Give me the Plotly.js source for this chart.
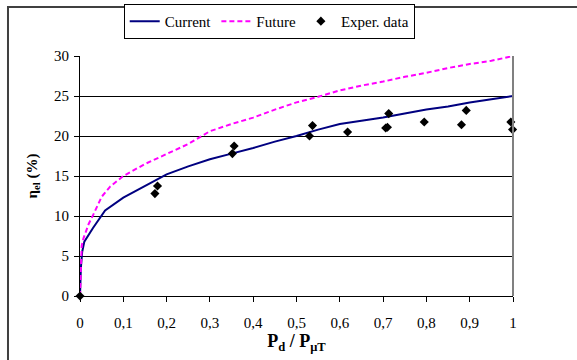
<!DOCTYPE html>
<html>
<head>
<meta charset="utf-8">
<script src="https://cdn.plot.ly/plotly-3.0.1.min.js"></script>
<style>html,body{margin:0;padding:0;background:#fff;}#chart{width:577px;height:360px;}</style>
</head>
<body>
<div id="chart"></div>
<script>
// Current design curve
const currentX = [0, 0.002, 0.005, 0.01, 0.03, 0.058, 0.1, 0.15, 0.2, 0.25, 0.3, 0.35, 0.4, 0.45, 0.5, 0.55, 0.6, 0.65, 0.7, 0.75, 0.8, 0.85, 0.9, 0.95, 1.0];
const currentY = [0, 3.5, 5.5, 6.8, 8.5, 10.7, 12.3, 13.8, 15.2, 16.2, 17.1, 17.8, 18.5, 19.3, 20.0, 20.8, 21.5, 21.9, 22.3, 22.8, 23.3, 23.7, 24.2, 24.6, 25.0];
// Future design curve
const futureX = [0, 0.002, 0.004, 0.008, 0.02, 0.031, 0.05, 0.07, 0.1, 0.15, 0.2, 0.25, 0.3, 0.35, 0.4, 0.45, 0.5, 0.55, 0.6, 0.65, 0.7, 0.75, 0.8, 0.85, 0.9, 0.95, 1.0];
const futureY = [0, 4.0, 6.3, 7.2, 9.0, 10.2, 12.4, 13.7, 15.0, 16.5, 17.7, 19.0, 20.6, 21.5, 22.3, 23.3, 24.2, 24.9, 25.7, 26.3, 26.8, 27.4, 27.9, 28.5, 29.0, 29.4, 30.0];
// Experimental data
const expX = [0, 0.173, 0.179, 0.352, 0.356, 0.530, 0.537, 0.618, 0.706, 0.710, 0.713, 0.795, 0.881, 0.892, 0.995, 0.999];
const expY = [0, 12.8, 13.75, 17.8, 18.75, 20.0, 21.3, 20.5, 21.0, 21.1, 22.8, 21.75, 21.4, 23.2, 21.75, 20.8];

const serif = "'Liberation Serif', 'Times New Roman', serif";

const traces = [
  {x: currentX, y: currentY, name: 'Current', mode: 'lines', type: 'scatter',
   line: {color: '#000080', width: 2}},
  {x: futureX, y: futureY, name: 'Future', mode: 'lines', type: 'scatter',
   line: {color: '#FF00FF', width: 2, dash: '5px,3px'}},
  {x: expX, y: expY, name: 'Exper. data', mode: 'markers', type: 'scatter',
   marker: {symbol: 'diamond', color: '#000000', size: 7}, cliponaxis: false}
];

const layout = {
  width: 577, height: 360,
  margin: {l: 80, r: 64, t: 56, b: 64, autoexpand: false},
  paper_bgcolor: '#ffffff', plot_bgcolor: '#ffffff',
  separators: ', ',
  font: {family: serif, size: 15, color: '#000'},
  showlegend: true,
  legend: {orientation: 'h', x: 0.437, y: 1.217, xanchor: 'center', yanchor: 'top',
           bgcolor: '#ffffff', bordercolor: '#000000', borderwidth: 1, itemwidth: 30,
           font: {family: serif, size: 15, color: '#000'}, tracegroupgap: 0},
  xaxis: {range: [0, 1], dtick: 0.1, tick0: 0, showgrid: false, zeroline: false,
          showline: true, linecolor: '#000', linewidth: 1, ticks: 'outside', ticklen: 5,
          tickcolor: '#000', tickfont: {family: serif, size: 15}, fixedrange: true,
          ticklabelstandoff: 8, automargin: false,
          title: {text: '<b>P<sub>d</sub> / P<sub>μT</sub></b>', font: {family: serif, size: 18}, standoff: 2}},
  yaxis: {range: [0, 30], dtick: 5, tick0: 0, showgrid: true, gridcolor: '#000', gridwidth: 1,
          zeroline: false, showline: true, linecolor: '#000', linewidth: 1, ticks: 'outside',
          ticklen: 5, tickcolor: '#000', tickfont: {family: serif, size: 15}, fixedrange: true,
          ticklabelstandoff: 2, automargin: false,
          title: {text: '<b>η<sub>el</sub> (%)</b>', font: {family: serif, size: 15}, standoff: 12}},
  shapes: [
    {type: 'rect', xref: 'paper', yref: 'paper', x0: -0.1663, x1: 1.4, y0: -0.5, y1: 1.204,
     line: {color: '#404040', width: 2}, layer: 'below'},
    {type: 'line', xref: 'paper', yref: 'paper', x0: 1, x1: 1, y0: 0, y1: 1,
     line: {color: '#808080', width: 2}}
  ]
};

Plotly.newPlot('chart', traces, layout, {displayModeBar: false, staticPlot: true});
</script>
</body>
</html>
